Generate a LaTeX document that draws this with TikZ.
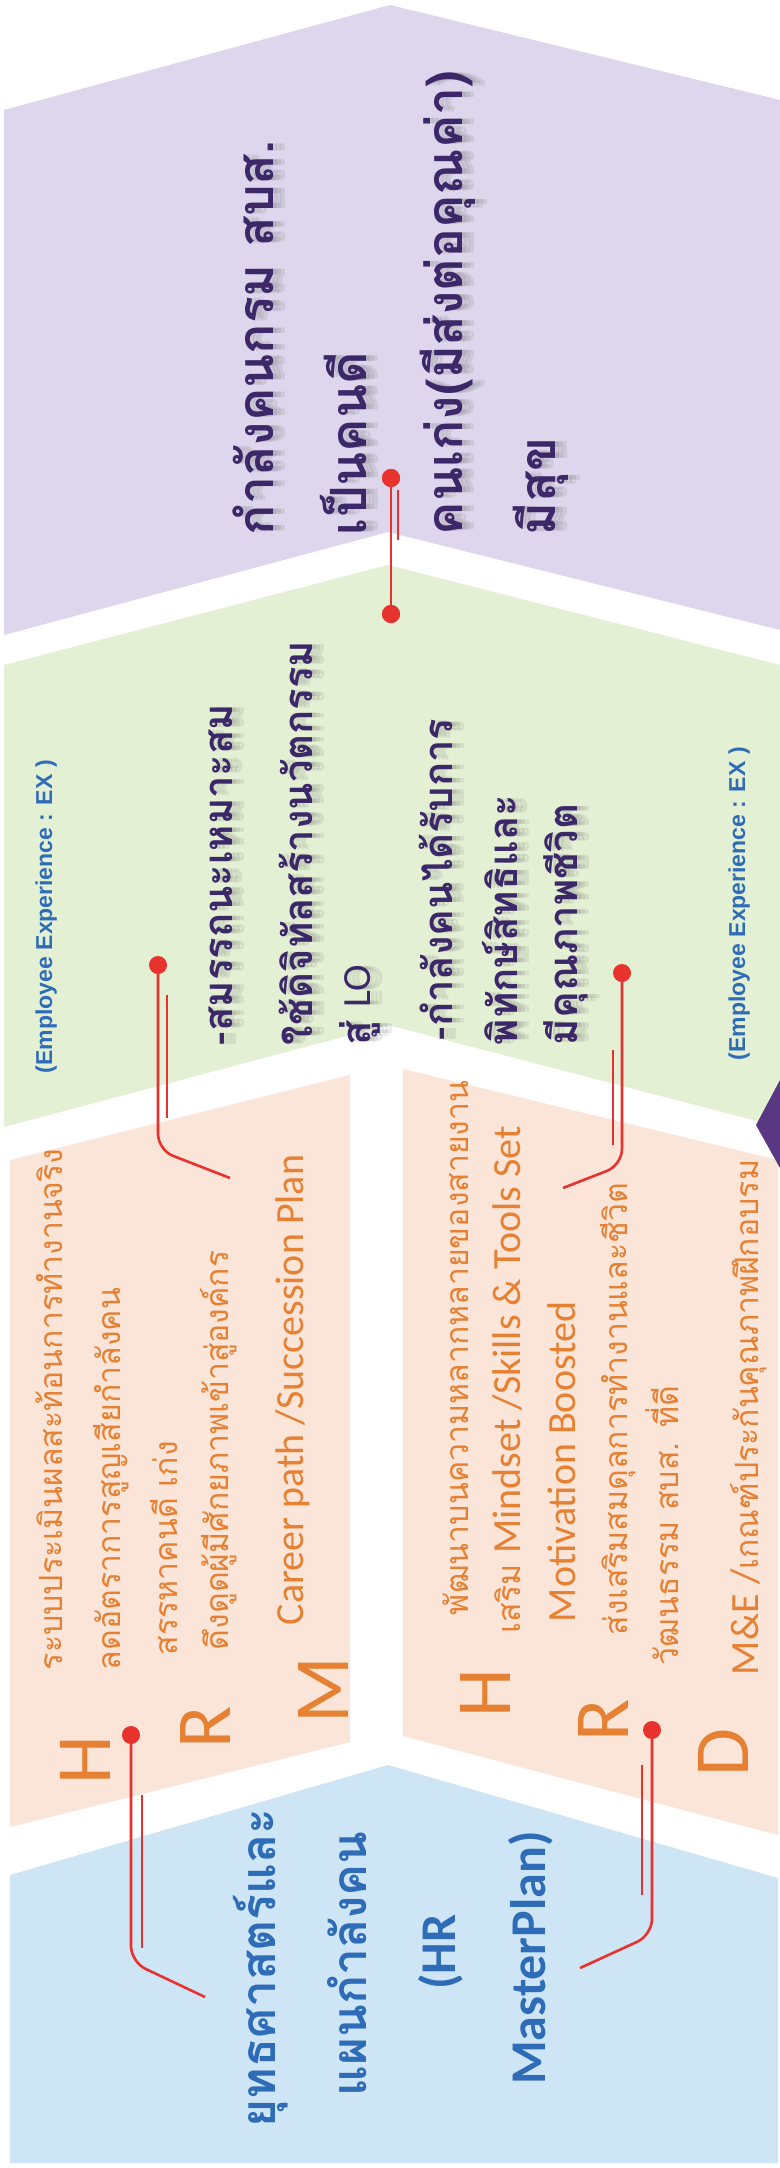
\documentclass[tikz,border=0pt]{standalone}
\usepackage{fontspec}
\newfontfamily\thai[Script=Thai]{Loma}
\newfontfamily\lat{Carlito}
\newfontfamily\exfont{Liberation Sans}
\usetikzlibrary{calc}

\definecolor{bandpurple}{RGB}{221,214,236}
\definecolor{bandgreen}{RGB}{227,240,212}
\definecolor{bandpeach}{RGB}{251,229,217}
\definecolor{bandblue}{RGB}{206,229,245}
\definecolor{txtorange}{RGB}{230,128,50}
\definecolor{txtblue}{RGB}{46,108,184}
\definecolor{txtpurple}{RGB}{60,40,105}
\definecolor{callred}{RGB}{232,50,45}
\definecolor{wedgepurple}{RGB}{90,55,130}

\tikzset{
  rot/.style={rotate=90, inner sep=0pt, outer sep=0pt},
  purpletxt/.style={rot, anchor=base west, text=txtpurple, font=\thai\bfseries\fontsize{25}{30}\selectfont},
  greentxt/.style={rot, anchor=base west, text=txtpurple, font=\thai\bfseries\fontsize{20}{24}\selectfont},
  bluetxt/.style={rot, anchor=base, text=txtblue, font=\thai\bfseries\fontsize{24}{30}\selectfont},
  bluelat/.style={rot, anchor=base, text=txtblue, font=\lat\bfseries\fontsize{25}{30}\selectfont},
  orthai/.style={rot, anchor=base west, text=txtorange, font=\thai\fontsize{16}{20}\selectfont},
  orlat/.style={rot, anchor=base west, text=txtorange, font=\lat\fontsize{20}{24}\selectfont},
  bigletter/.style={rot, anchor=center, text=txtorange, font=\lat\fontsize{39}{44}\selectfont},
  extxt/.style={rot, anchor=base west, text=txtblue, font=\exfont\bfseries\fontsize{11.5}{14}\selectfont},
  softshadow/.style={text=black!60, opacity=0.13},
  callout/.style={draw=callred, line width=1.3pt, rounded corners=8pt},
  echo/.style={draw=callred, line width=0.7pt},
  reddot/.style={circle, fill=callred, inner sep=0pt, minimum size=9pt},
}

% a text line with a soft, blurred grey shadow falling to the right
\newcommand\shadowline[4]{%
  \node[#2, softshadow] (#1-sa) at ($#3+(4,0)$) {#4};
  \node[#2, softshadow] (#1-sb) at ($#3+(8,0)$) {#4};
  \node[#2, softshadow] (#1-sc) at ($#3+(12,0)$) {#4};
  \node[#2] (#1) at #3 {#4};}

\begin{document}
\begin{tikzpicture}[x=0.5pt, y=-0.5pt]
\useasboundingbox (0,0) rectangle (780,2168);
\fill[white] (0,0) rectangle (780,2168);

% chevron bands
\fill[bandpurple] (4,110) -- (390,5) -- (780,100) -- (780,630) -- (388,532) -- (4,635) -- cycle;
\fill[bandgreen] (4,665) -- (388,565) -- (780,665) -- (780,1127) -- (388,1025) -- (4,1127) -- cycle;
\fill[bandpeach] (10,1160) -- (350,1075) -- (350,1742) -- (10,1827) -- cycle;
\fill[bandpeach] (403,1069) -- (778,1160) -- (778,1835) -- (403,1736) -- cycle;
\fill[bandblue] (10,1875) -- (388,1765) -- (778,1878) -- (778,2163) -- (10,2163) -- cycle;
\fill[wedgepurple] (780,1080) -- (756,1125) -- (780,1168) -- cycle;

% outcome
\shadowline{p1}{purpletxt}{(273,535)}{กำลังคนกรม สบส.}
\shadowline{p2}{purpletxt}{(366,535)}{เป็นคนดี}
\shadowline{p3}{purpletxt}{(462,535)}{คนเก่ง(มีส่งต่อคุณค่า)}
\shadowline{p4}{purpletxt}{(555,535)}{มีสุข}

% employee experience
\node[extxt] (ex1) at (52,1073) {(Employee Experience : EX )};
\node[extxt] (ex2) at (745,1060) {(Employee Experience : EX )};
\shadowline{g1}{greentxt}{(232,1045)}{-สมรรถนะเหมาะสม}
\shadowline{g2}{greentxt}{(312,1045)}{ใช้ดิจิทัลสร้างนวัตกรรม}
\shadowline{g3}{greentxt}{(370,1045)}{สู่ {\lat\mdseries LO}}
\shadowline{g4}{greentxt}{(452,1040)}{-กำลังคนได้รับการ}
\shadowline{g5}{greentxt}{(517,1045)}{พิทักษ์สิทธิและ}
\shadowline{g6}{greentxt}{(577,1045)}{มีคุณภาพชีวิต}

% HRM / HRD
\node[bigletter] (hm-h) at (85,1760) {H};
\node[bigletter] (hm-r) at (205,1727) {R};
\node[bigletter] (hm-m) at (323,1690) {M};
\node[orthai] (u1) at (62,1670) {ระบบประเมินผลสะท้อนการทำงานจริง};
\node[orthai] (u2) at (120,1670) {ลดอัตราการสูญเสียกำลังคน};
\node[orthai] (u3) at (177,1655) {สรรหาคนดี เก่ง};
\node[orthai] (u4) at (228,1650) {ดึงดูดผู้มีศักยภาพเข้าสู่องค์กร};
\node[orlat] (u5) at (303,1625) {Career path /Succession Plan};

\node[bigletter] (hd-h) at (485,1693) {H};
\node[bigletter] (hd-r) at (603,1720) {R};
\node[bigletter] (hd-d) at (723,1752) {D};
\node[orthai] (l1) at (468,1615) {พัฒนาบนความหลากหลายของสายงาน};
\node[orthai] (l2) at (520,1633) {เสริม {\lat\fontsize{20}{24}\selectfont Mindset /Skills \& Tools Set}};
\node[orlat] (l3) at (575,1622) {Motivation Boosted};
\node[orthai] (l4) at (627,1635) {ส่งเสริมสมดุลการทำงานและชีวิต};
\node[orthai] (l5) at (678,1665) {วัฒนธรรม สบส. ที่ดี};
\node[orthai] (l6) at (758,1675) {{\lat\fontsize{20}{24}\selectfont M\&E /}เกณฑ์ประกันคุณภาพฝึกอบรม};

% strategy
\node[bluetxt] (b1) at (275,1968) {ยุทธศาสตร์และ};
\node[bluetxt] (b2) at (366,1964) {แผนกำลังคน};
\node[bluelat] (b3) at (455,1952) {(HR};
\node[bluelat] (b4) at (545,1958) {MasterPlan)};

% callouts
\node[reddot] (dA) at (131,1735) {};
\coordinate (cA) at (131,1962);
\coordinate (eA) at (205,1997);
\coordinate (sA) at (142,1795);
\coordinate (tA) at (142,1948);
\draw[callout] (dA.center) -- (cA) -- (eA);
\draw[echo] (sA) -- (tA);

\node[reddot] (dB) at (652,1730) {};
\coordinate (cB) at (652,1935);
\coordinate (eB) at (580,1968);
\coordinate (sB) at (642,1765);
\coordinate (tB) at (642,1895);
\draw[callout] (dB.center) -- (cB) -- (eB);
\draw[echo] (sB) -- (tB);

\node[reddot] (dC) at (158,965) {};
\coordinate (cC) at (158,1150);
\coordinate (eC) at (230,1178);
\coordinate (sC) at (167,995);
\coordinate (tC) at (167,1118);
\draw[callout] (dC.center) -- (cC) -- (eC);
\draw[echo] (sC) -- (tC);

\node[reddot] (dD) at (622,973) {};
\coordinate (cD) at (622,1165);
\coordinate (eD) at (563,1188);
\coordinate (sD) at (613,1050);
\coordinate (tD) at (613,1145);
\draw[callout] (dD.center) -- (cD) -- (eD);
\draw[echo] (sD) -- (tD);

\node[reddot] (dE) at (391,614) {};
\node[reddot] (dF) at (391,478) {};
\coordinate (sE) at (398,490);
\coordinate (tE) at (398,540);
\draw[callout] (dE.center) -- (dF.center);
\draw[echo] (sE) -- (tE);
\node[reddot] at (dE) {};
\node[reddot] at (dF) {};
\end{tikzpicture}
\end{document}
